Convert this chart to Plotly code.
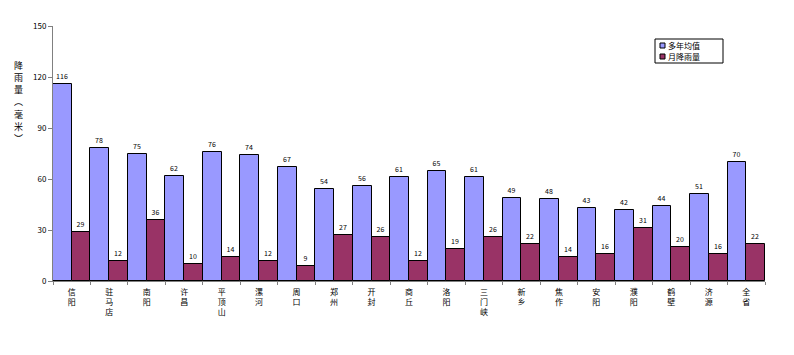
import plotly.graph_objects as go

categories = ["信阳", "驻马店", "南阳", "许昌", "平顶山", "漯河", "周口", "郑州", "开封", "商丘",
              "洛阳", "三门峡", "新乡", "焦作", "安阳", "濮阳", "鹤壁", "济源", "全省"]
avg_values = [116, 78, 75, 62, 76, 74, 67, 54, 56, 61, 65, 61, 49, 48, 43, 42, 44, 51, 70]
month_values = [29, 12, 36, 10, 14, 12, 9, 27, 26, 12, 19, 26, 22, 14, 16, 31, 20, 16, 22]
series_names = ["多年均值", "月降雨量"]
series_colors = ["#9999FF", "#993366"]
y_ticks = [0, 30, 60, 90, 120, 150]
y_title = "降雨量︵毫米︶"

FONT = "Noto Sans CJK SC"
tick_text = ["<br>".join(list(c)) for c in categories]

# plot-area geometry in pixels (for placing legend / title in paper coords)
L, T, PW, PH = 53, 26, 712, 255
def px(x):
    return (x - L) / PW
def py(y):
    return 1 - (y - T) / PH

fig = go.Figure()
for name, vals, col in zip(series_names, [avg_values, month_values], series_colors):
    fig.add_trace(go.Bar(
        x=categories, y=vals, name=name, showlegend=False,
        marker=dict(color=col, line=dict(color="#000000", width=1)),
        text=vals, textposition="outside", textfont=dict(size=7, color="#000000"),
        cliponaxis=False,
    ))

fig.update_layout(
    width=794, height=355,
    margin=dict(l=L, r=794 - L - PW, t=T, b=355 - T - PH),
    paper_bgcolor="white", plot_bgcolor="white",
    barmode="group", bargap=0, bargroupgap=0,
    font=dict(family=FONT, size=8, color="#000"),
    showlegend=False,
    uniformtext=dict(minsize=7, mode="show"),
)
fig.update_xaxes(
    tickmode="array", tickvals=categories, ticktext=tick_text,
    tickangle=0, tickfont=dict(size=8), ticklabelstandoff=3,
    ticks="outside", tickson="boundaries", ticklen=3, tickcolor="#808080",
    showline=True, linecolor="#808080", linewidth=1, showgrid=False,
)
fig.update_yaxes(
    range=[0, 150], tickvals=y_ticks, ticks="outside", ticklen=4, tickcolor="#808080",
    tickfont=dict(size=8),
    showline=True, linecolor="#808080", linewidth=1, showgrid=False, zeroline=False,
)

# legend box
fig.add_shape(type="rect", xref="paper", yref="paper",
              x0=px(655), x1=px(723), y0=py(63), y1=py(39),
              line=dict(color="#000", width=1), fillcolor="white")
for i, (name, col) in enumerate(zip(series_names, series_colors)):
    cy = 45.5 + i * 11
    fig.add_shape(type="rect", xref="paper", yref="paper",
                  x0=px(660), x1=px(665), y0=py(cy + 2.5), y1=py(cy - 2.5),
                  line=dict(color="#000", width=1), fillcolor=col)
    fig.add_annotation(xref="paper", yref="paper", x=px(667), y=py(cy),
                       xanchor="left", yanchor="middle", text=name, showarrow=False,
                       font=dict(size=8), borderpad=0)

# vertical axis title, one character per line
for i, ch in enumerate(y_title):
    fig.add_annotation(
        xref="paper", yref="paper", x=px(18), y=py(65 + i * 12.3),
        xanchor="center", yanchor="middle", text=ch, showarrow=False,
        font=dict(size=9), borderpad=0,
    )
fig.write_html("out.html")
